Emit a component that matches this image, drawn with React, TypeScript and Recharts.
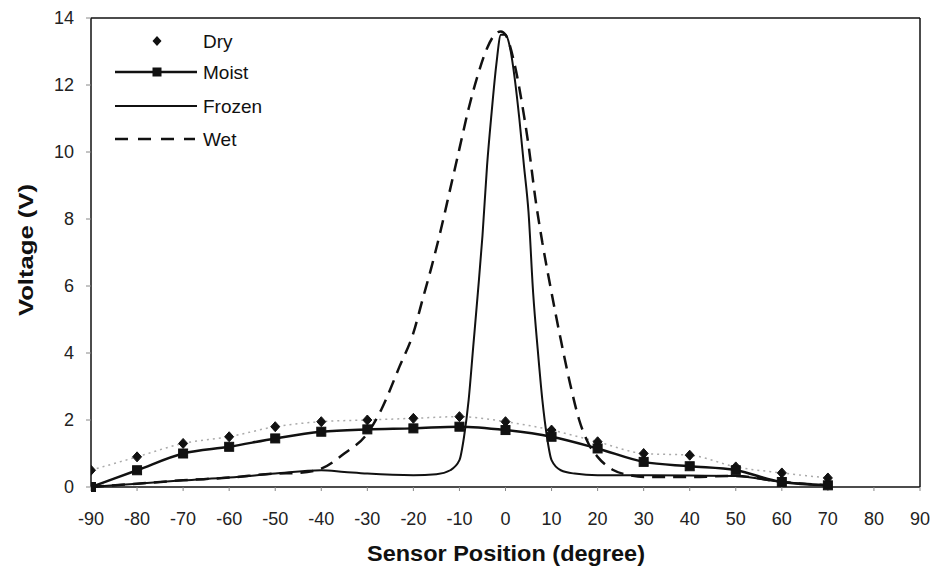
import React from "react";
import { ComposedChart, Line, XAxis, YAxis, ReferenceLine } from "recharts";

const positions = [-90, -80, -70, -60, -50, -40, -30, -20, -10, 0, 10, 20, 30, 40, 50, 60, 70];
const dryValues = [0.5, 0.9, 1.3, 1.5, 1.8, 1.95, 2.0, 2.05, 2.1, 1.95, 1.7, 1.35, 1.0, 0.95, 0.6, 0.42, 0.27];
const moistValues = [0, 0.5, 1.0, 1.2, 1.45, 1.65, 1.72, 1.75, 1.8, 1.7, 1.5, 1.15, 0.75, 0.62, 0.5, 0.15, 0.05];

const frozenX = [-90, -80, -70, -60, -50, -40, -35, -30, -20, -15, -12, -10, -9, -8, -7, -6, -5, -4, -3, -2, -1, 0, 1, 2, 3, 4, 5, 6, 7, 8, 9, 10, 12, 15, 20, 30, 40, 50, 60, 70];
const frozenValues = [0, 0.1, 0.2, 0.28, 0.4, 0.5, 0.45, 0.4, 0.35, 0.38, 0.5, 0.8, 1.5, 2.6, 4.2, 5.8, 7.5, 9.6, 11.2, 12.6, 13.5, 13.5, 13.1, 12.2, 11.0, 9.6, 8.2, 5.8, 4.1, 2.6, 1.5, 0.8, 0.5, 0.4, 0.35, 0.35, 0.34, 0.33, 0.15, 0.05];

const wetX = [-90, -80, -70, -60, -50, -45, -40, -35, -30, -27, -23, -20, -18, -16, -14, -12, -10, -8, -6, -4, -2, -1, 0, 2, 4, 5, 6.5, 8, 10, 12, 14, 16, 18, 20, 23.5, 27, 30, 40, 50, 60, 70];
const wetValues = [0, 0.1, 0.2, 0.28, 0.4, 0.42, 0.55, 1.0, 1.6, 2.3, 3.6, 4.6, 5.6, 6.6, 7.7, 8.9, 10.1, 11.3, 12.3, 13.1, 13.55, 13.6, 13.5, 12.6, 11.1, 10.2, 8.6, 7.3, 5.8, 4.4, 3.1, 2.0, 1.3, 0.9, 0.5, 0.35, 0.3, 0.3, 0.33, 0.15, 0.05];

const xTicks = [-90, -80, -70, -60, -50, -40, -30, -20, -10, 0, 10, 20, 30, 40, 50, 60, 70, 80, 90];
const yTicks = [0, 2, 4, 6, 8, 10, 12, 14];

const legendNames = ["Dry", "Moist", "Frozen", "Wet"];

const dryData = positions.map((x, i) => ({ x, v: dryValues[i] }));
const moistData = positions.map((x, i) => ({ x, v: moistValues[i] }));
const frozenData = frozenX.map((x, i) => ({ x, v: frozenValues[i] }));
const wetData = wetX.map((x, i) => ({ x, v: wetValues[i] }));

const FONT = "Arial, 'Liberation Sans', Helvetica, sans-serif";

const Diamond = (props: any) => {
  const { cx, cy, key } = props;
  if (cx == null || cy == null) return <g key={key} />;
  return <path key={key} d={`M${cx},${cy - 5} L${cx + 4.5},${cy} L${cx},${cy + 5} L${cx - 4.5},${cy} Z`} fill="#111" stroke="#111" strokeWidth={1} />;
};

const Square = (props: any) => {
  const { cx, cy, key } = props;
  if (cx == null || cy == null) return <g key={key} />;
  return <rect key={key} x={cx - 4.5} y={cy - 4.5} width={9} height={9} fill="#111" stroke="#111" />;
};

const XTick = (props: any) => {
  const { x, y, payload } = props;
  return (
    <text x={x} y={y + 13} textAnchor="middle" fontSize={18} fontFamily={FONT} fill="#222">
      {payload.value}
    </text>
  );
};

const YTick = (props: any) => {
  const { x, y, payload } = props;
  return (
    <text x={x} y={y + 6} textAnchor="end" fontSize={18} fontFamily={FONT} fill="#222">
      {payload.value}
    </text>
  );
};

const XTitle = () => (
  <text x={506} y={561} textAnchor="middle" fontSize={22} fontWeight="bold" fontFamily={FONT} fill="#111" textLength={278} lengthAdjust="spacingAndGlyphs">
    Sensor Position (degree)
  </text>
);

const YTitle = () => (
  <text x={0} y={0} transform="translate(33,250) rotate(-90)" textAnchor="middle" fontSize={20} fontWeight="bold" fontFamily={FONT} fill="#111" textLength={132} lengthAdjust="spacingAndGlyphs">
    Voltage (V)
  </text>
);

const LegendBox = () => (
  <svg width={230} height={140} style={{ position: "absolute", left: 100, top: 20, display: "block" }}>
    <g fontFamily={FONT} fontSize={19} fill="#111">
      <path d="M57,16 L61.5,21 L57,26 L52.5,21 Z" fill="#111" />
      <text x={103} y={28}>{legendNames[0]}</text>
      <line x1={15} y1={52} x2={97} y2={52} stroke="#111" strokeWidth={2.5} />
      <rect x={52.5} y={47.5} width={9} height={9} fill="#111" />
      <text x={103} y={59}>{legendNames[1]}</text>
      <line x1={15} y1={86} x2={97} y2={86} stroke="#111" strokeWidth={2} />
      <text x={103} y={93}>{legendNames[2]}</text>
      <line x1={15} y1={119} x2={95} y2={119} stroke="#111" strokeWidth={2.5} strokeDasharray="13 10" />
      <text x={103} y={126}>{legendNames[3]}</text>
    </g>
  </svg>
);

export default function App() {
  return (
    <div style={{ position: "absolute", left: 0, top: 0, width: 936, height: 573, background: "#fff" }}>
      <ComposedChart width={936} height={573} margin={{ top: 18, right: 16, bottom: 56, left: 31 }}>
        <XAxis
          dataKey="x"
          type="number"
          domain={[-90, 90]}
          ticks={xTicks}
          allowDataOverflow
          height={30}
          tickSize={4}
          tickMargin={21}
          tick={<XTick />}
          axisLine={{ stroke: "#111", strokeWidth: 1.5 }}
          tickLine={{ stroke: "#888" }}
          label={<XTitle />}
        />
        <YAxis
          dataKey="v"
          type="number"
          domain={[0, 14]}
          ticks={yTicks}
          width={60}
          tickSize={5}
          tickMargin={12}
          tick={<YTick />}
          axisLine={{ stroke: "#111", strokeWidth: 1.5 }}
          tickLine={{ stroke: "#888" }}
          label={<YTitle />}
        />
        <ReferenceLine y={14} stroke="#111" strokeWidth={1.5} />
        <ReferenceLine x={90} stroke="#111" strokeWidth={1.5} />
        <Line data={dryData} dataKey="v" type="monotone" stroke="#aaa" strokeWidth={1.5} strokeDasharray="2 4" dot={Diamond} isAnimationActive={false} />
        <Line data={frozenData} dataKey="v" type="monotone" stroke="#111" strokeWidth={2} dot={false} isAnimationActive={false} />
        <Line data={wetData} dataKey="v" type="monotone" stroke="#111" strokeWidth={2.5} strokeDasharray="13 8" dot={false} isAnimationActive={false} />
        <Line data={moistData} dataKey="v" type="monotone" stroke="#111" strokeWidth={2.5} dot={Square} isAnimationActive={false} />
      </ComposedChart>
      <LegendBox />
    </div>
  );
}
